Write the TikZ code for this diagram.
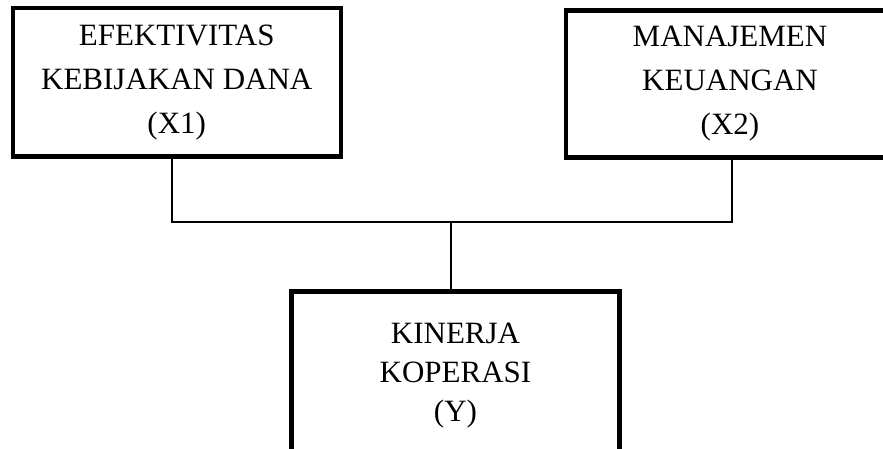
\documentclass[tikz,border=0pt]{standalone}
\usepackage{fontspec}
\setmainfont{Liberation Serif}
\begin{document}
\begin{tikzpicture}[x=1pt,y=-1pt,
  box/.style={draw,line width=4.5pt,minimum width=328pt,align=center,inner sep=0pt,
    font=\fontsize{31}{44}\selectfont},
  link/.style={line width=1.2pt}]
\clip (0,0) rectangle (883,448);
\node[box,minimum height=148.5pt] (x1) at (176.75,82.25) {EFEKTIVITAS\\KEBIJAKAN DANA\\(X1)};
\node[box,minimum height=147pt] (x2) at (730,84) {MANAJEMEN\\KEUANGAN\\(X2)};
\node[box,minimum height=169pt,font=\fontsize{31}{39}\selectfont] (y) at (455.5,376) {KINERJA\\KOPERASI\\(Y)};
\coordinate (bus) at (451,222);
\draw[link] ([xshift=-4.75pt]x1.south) |- (bus) -| ([xshift=2pt]x2.south);
\draw[link] (bus) -- (bus |- y.north);
\end{tikzpicture}
\end{document}
